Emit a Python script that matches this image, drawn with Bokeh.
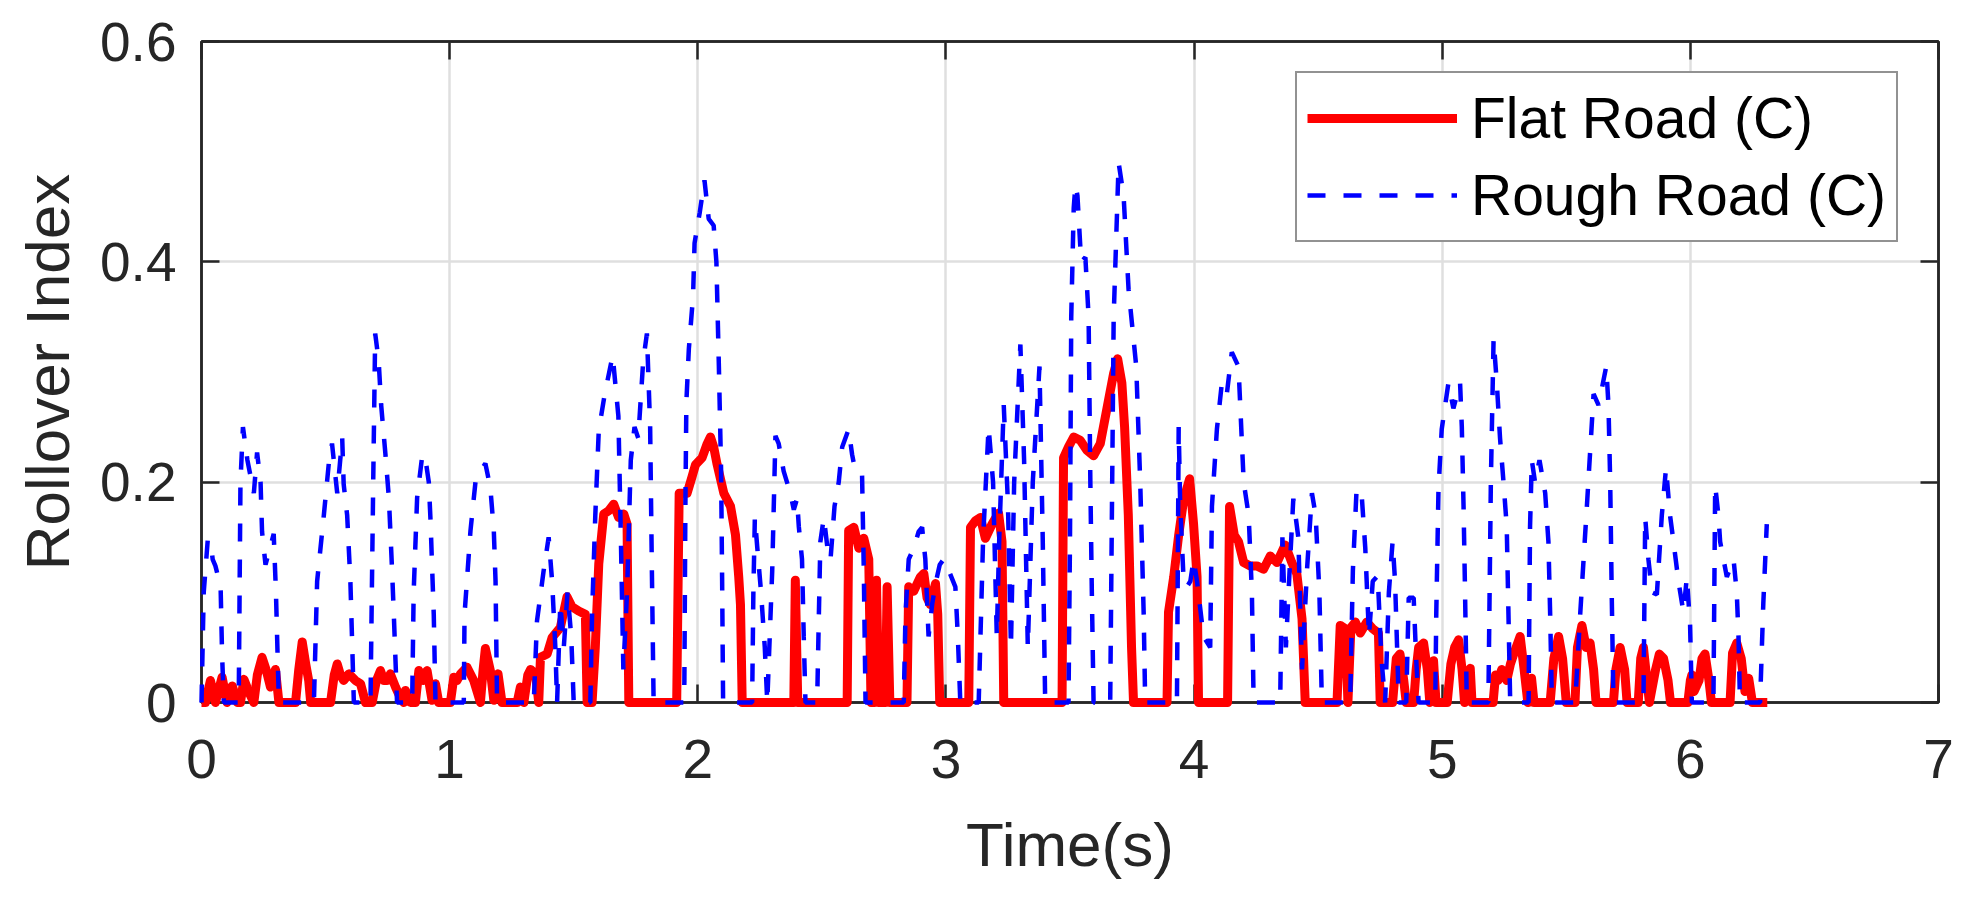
from bokeh.plotting import figure
from bokeh.models import Range1d, LinearAxis, FixedTicker, Legend, LegendItem
from bokeh.embed import file_html
from bokeh.resources import INLINE

# ---------------- data ----------------
x_ticks = [0, 1, 2, 3, 4, 5, 6, 7]
y_ticks = [0, 0.2, 0.4, 0.6]
y_tick_labels = {0: "0", 0.2: "0.2", 0.4: "0.4", 0.6: "0.6"}
series_names = ["Flat Road (C)", "Rough Road (C)"]
x_label = "Time(s)"
y_label = "Rollover Index"

flat_t = [
    0.000, 0.016, 0.036, 0.056, 0.083, 0.103, 0.124, 0.145, 0.157, 0.171, 0.190, 0.211, 0.225, 0.244, 0.260, 0.278, 0.298, 0.312,
    0.379, 0.392, 0.406, 0.420, 0.432, 0.440,
    0.520, 0.535, 0.547, 0.560, 0.573, 0.594, 0.620, 0.641, 0.661,
    0.688, 0.705, 0.721, 0.735, 0.748, 0.761, 0.782, 0.800, 0.815, 0.822, 0.842,
    0.862, 0.876, 0.892, 0.909, 0.929, 0.943, 0.956,
    1.003, 1.017, 1.030, 1.044, 1.070, 1.097, 1.124, 1.135, 1.144, 1.164, 1.178, 1.195, 1.211,
    1.272, 1.285, 1.299, 1.315, 1.326, 1.346, 1.359, 1.366, 1.393, 1.413, 1.446, 1.473, 1.493, 1.520, 1.547, 1.554,
    1.574, 1.587, 1.601, 1.621, 1.641, 1.661, 1.681, 1.702, 1.715, 1.722,
    1.915, 1.925, 1.957, 1.977, 1.991, 2.017, 2.038, 2.051, 2.064, 2.078, 2.105, 2.132, 2.152, 2.165, 2.172, 2.179,
    2.387, 2.393, 2.403,
    2.602, 2.608, 2.629, 2.649, 2.669, 2.689, 2.698,
    2.712, 2.720, 2.729, 2.756, 2.763, 2.774,
    2.843, 2.850, 2.870, 2.897, 2.911, 2.924, 2.937, 2.958, 2.967, 2.975,
    3.092, 3.099, 3.119, 3.139, 3.159, 3.186, 3.212, 3.226, 3.233,
    3.468, 3.474, 3.494, 3.515, 3.541, 3.568, 3.595, 3.622, 3.649, 3.676, 3.692, 3.709, 3.720, 3.735, 3.748, 3.756,
    3.891, 3.897, 3.918, 3.938, 3.958, 3.982, 3.998, 4.012, 4.018,
    4.135, 4.143, 4.162, 4.179, 4.200, 4.226, 4.253, 4.280, 4.307, 4.334, 4.367, 4.394, 4.414, 4.435, 4.448,
    4.576, 4.589, 4.610, 4.620, 4.632, 4.650, 4.670, 4.696, 4.720, 4.743, 4.750,
    4.800, 4.815, 4.830, 4.845, 4.855,
    4.885, 4.895, 4.905, 4.925, 4.940, 4.950, 4.958, 4.965, 4.975,
    5.020, 5.035, 5.050, 5.066, 5.080, 5.090, 5.105, 5.113, 5.120,
    5.205, 5.215, 5.225, 5.240, 5.260, 5.275, 5.290, 5.314, 5.330, 5.345, 5.360, 5.370,
    5.435, 5.450, 5.469, 5.485, 5.500,
    5.535, 5.545, 5.563, 5.580, 5.596, 5.610, 5.620,
    5.690, 5.700, 5.717, 5.735, 5.745,
    5.790, 5.800, 5.811, 5.825, 5.835, 5.860, 5.875, 5.892, 5.910, 5.920,
    5.990, 6.000, 6.006, 6.015, 6.035, 6.047, 6.059, 6.075, 6.085,
    6.160, 6.170, 6.187, 6.205, 6.220, 6.235, 6.250, 6.310,
]
flat_v = [
    0.0, 0.0, 0.020, 0.0, 0.023, 0.0, 0.015, 0.0, 0.0, 0.021, 0.010, 0.0, 0.025, 0.041, 0.030, 0.014, 0.030, 0.0,
    0.0, 0.030, 0.055, 0.035, 0.020, 0.0,
    0.0, 0.025, 0.035, 0.025, 0.020, 0.026, 0.020, 0.017, 0.0,
    0.0, 0.020, 0.029, 0.020, 0.020, 0.026, 0.014, 0.005, 0.0, 0.011, 0.0,
    0.0, 0.029, 0.020, 0.029, 0.002, 0.017, 0.0,
    0.0, 0.023, 0.020, 0.026, 0.032, 0.020, 0.0, 0.030, 0.049, 0.029, 0.002, 0.026, 0.0,
    0.0, 0.014, 0.0, 0.025, 0.030, 0.026, 0.0, 0.041, 0.044, 0.059, 0.068, 0.096, 0.087, 0.083, 0.080, 0.0,
    0.0, 0.050, 0.126, 0.171, 0.174, 0.180, 0.168, 0.171, 0.162, 0.0,
    0.0, 0.190, 0.190, 0.205, 0.216, 0.222, 0.235, 0.241, 0.232, 0.216, 0.190, 0.178, 0.152, 0.114, 0.089, 0.0,
    0.0, 0.111, 0.0,
    0.0, 0.156, 0.159, 0.140, 0.149, 0.130, 0.0,
    0.0, 0.111, 0.0, 0.0, 0.105, 0.0,
    0.0, 0.105, 0.101, 0.114, 0.117, 0.095, 0.089, 0.108, 0.080, 0.0,
    0.0, 0.159, 0.165, 0.168, 0.149, 0.162, 0.172, 0.146, 0.0,
    0.0, 0.222, 0.232, 0.241, 0.238, 0.229, 0.224, 0.235, 0.267, 0.299, 0.312, 0.290, 0.250, 0.170, 0.050, 0.0,
    0.0, 0.082, 0.114, 0.152, 0.184, 0.203, 0.162, 0.114, 0.0,
    0.0, 0.178, 0.152, 0.146, 0.127, 0.124, 0.124, 0.121, 0.133, 0.127, 0.143, 0.127, 0.117, 0.076, 0.0,
    0.0, 0.070, 0.067, 0.0, 0.068, 0.073, 0.063, 0.073, 0.067, 0.063, 0.0,
    0.0, 0.040, 0.044, 0.020, 0.0,
    0.0, 0.030, 0.050, 0.054, 0.030, 0.0, 0.030, 0.038, 0.0,
    0.0, 0.035, 0.050, 0.057, 0.030, 0.0, 0.020, 0.031, 0.0,
    0.0, 0.025, 0.020, 0.030, 0.020, 0.035, 0.045, 0.060, 0.030, 0.0, 0.022, 0.0,
    0.0, 0.040, 0.060, 0.040, 0.0,
    0.0, 0.050, 0.070, 0.050, 0.054, 0.030, 0.0,
    0.0, 0.030, 0.050, 0.030, 0.0,
    0.0, 0.040, 0.050, 0.020, 0.0, 0.030, 0.044, 0.040, 0.020, 0.0,
    0.0, 0.020, 0.025, 0.010, 0.020, 0.040, 0.044, 0.020, 0.0,
    0.0, 0.045, 0.054, 0.040, 0.010, 0.022, 0.0, 0.0,
]

rough_t = [
    0.000, 0.009, 0.025, 0.036, 0.045, 0.056, 0.077, 0.083, 0.090,
    0.150, 0.157, 0.167, 0.185, 0.211, 0.224, 0.238, 0.244, 0.258, 0.291, 0.300, 0.307, 0.312,
    0.453, 0.466, 0.493, 0.513, 0.526, 0.547, 0.567, 0.573, 0.587, 0.600, 0.614,
    0.681, 0.692, 0.700, 0.714, 0.724, 0.741, 0.755, 0.761, 0.768, 0.775, 0.788,
    0.849, 0.855, 0.869, 0.889, 0.900, 0.916, 0.923, 0.929, 0.936, 0.943,
    1.057, 1.060, 1.084, 1.104, 1.124, 1.144, 1.164, 1.178, 1.185, 1.191,
    1.339, 1.352, 1.379, 1.399, 1.413, 1.426, 1.433, 1.446, 1.460, 1.475, 1.490, 1.500,
    1.567, 1.574, 1.587, 1.601, 1.625, 1.657, 1.680, 1.690, 1.700, 1.715, 1.730, 1.745, 1.760, 1.780, 1.795, 1.808, 1.815, 1.822,
    1.944, 1.946, 1.950, 1.954, 1.964, 1.981, 1.987, 2.008, 2.027, 2.044, 2.064, 2.075, 2.085, 2.094, 2.098, 2.102,
    2.219, 2.224, 2.230, 2.240, 2.255, 2.270, 2.280,
    2.300, 2.313, 2.326, 2.346, 2.373, 2.387, 2.400, 2.407, 2.420, 2.427, 2.434,
    2.481, 2.488, 2.494, 2.508, 2.528, 2.535, 2.551, 2.568, 2.582, 2.608, 2.622, 2.635, 2.662, 2.669, 2.676,
    2.830, 2.837, 2.850, 2.870, 2.890, 2.904, 2.917, 2.930, 2.945, 2.960, 2.975, 2.991, 3.011, 3.038, 3.048, 3.058,
    3.132, 3.150, 3.172, 3.190, 3.205, 3.215, 3.233, 3.250, 3.262, 3.275, 3.300, 3.315, 3.330, 3.350, 3.377, 3.390, 3.400,
    3.494, 3.500, 3.505, 3.515, 3.522, 3.530, 3.545, 3.562, 3.575, 3.582, 3.588, 3.595,
    3.662, 3.676, 3.696, 3.716, 3.736, 3.767, 3.783, 3.797, 3.803,
    3.931, 3.938, 3.944, 3.958, 3.971, 3.985, 3.998, 4.012, 4.038, 4.065, 4.072, 4.092, 4.112, 4.132, 4.152, 4.179, 4.200, 4.220, 4.233, 4.240,
    4.347, 4.356, 4.370, 4.385, 4.400, 4.420, 4.435, 4.455, 4.475, 4.490, 4.505, 4.515,
    4.629, 4.640, 4.655, 4.675, 4.690, 4.705, 4.720, 4.740, 4.755, 4.770, 4.785, 4.800, 4.810, 4.825, 4.855, 4.865, 4.885, 4.895, 4.905,
    4.972, 4.976, 4.985, 4.998, 5.012, 5.025, 5.045, 5.072, 5.079, 5.086, 5.092, 5.099,
    5.186, 5.196, 5.207, 5.220, 5.233, 5.247, 5.260, 5.267, 5.274,
    5.348, 5.354, 5.361, 5.374, 5.392, 5.415, 5.428, 5.435, 5.442,
    5.536, 5.556, 5.583, 5.610, 5.630, 5.661, 5.670, 5.677, 5.683, 5.690,
    5.811, 5.818, 5.831, 5.845, 5.865, 5.885, 5.902, 5.918, 5.932, 5.952, 5.972, 5.986, 5.999, 6.006,
    6.093, 6.100, 6.113, 6.120, 6.147, 6.174, 6.187, 6.194, 6.200,
    6.281, 6.294, 6.308,
]
rough_v = [
    0.0, 0.100, 0.147, 0.147, 0.130, 0.124, 0.105, 0.043, 0.0,
    0.0, 0.200, 0.250, 0.220, 0.190, 0.227, 0.200, 0.155, 0.125, 0.153, 0.100, 0.040, 0.0,
    0.0, 0.110, 0.170, 0.217, 0.235, 0.190, 0.240, 0.198, 0.170, 0.110, 0.0,
    0.0, 0.200, 0.335, 0.310, 0.270, 0.226, 0.186, 0.156, 0.120, 0.080, 0.0,
    0.0, 0.100, 0.186, 0.223, 0.225, 0.200, 0.165, 0.125, 0.080, 0.0,
    0.0, 0.080, 0.156, 0.200, 0.210, 0.217, 0.195, 0.156, 0.110, 0.0,
    0.0, 0.074, 0.120, 0.150, 0.110, 0.050, 0.0, 0.090, 0.050, 0.100, 0.060, 0.0,
    0.0, 0.080, 0.170, 0.247, 0.280, 0.315, 0.260, 0.150, 0.030, 0.100, 0.220, 0.250, 0.240, 0.310, 0.335, 0.250, 0.120, 0.0,
    0.0, 0.019, 0.178, 0.273, 0.321, 0.369, 0.417, 0.445, 0.474, 0.439, 0.433, 0.400, 0.305, 0.210, 0.114, 0.0,
    0.0, 0.100, 0.168, 0.140, 0.100, 0.050, 0.0,
    0.120, 0.242, 0.235, 0.210, 0.190, 0.175, 0.185, 0.160, 0.130, 0.060, 0.0,
    0.0, 0.080, 0.146, 0.168, 0.130, 0.130, 0.178, 0.200, 0.232, 0.248, 0.225, 0.210, 0.207, 0.120, 0.0,
    0.0, 0.080, 0.130, 0.140, 0.155, 0.159, 0.130, 0.060, 0.090, 0.110, 0.125, 0.130, 0.120, 0.105, 0.060, 0.0,
    0.0, 0.150, 0.250, 0.200, 0.060, 0.150, 0.270, 0.180, 0.050, 0.200, 0.325, 0.220, 0.050, 0.200, 0.305, 0.150, 0.0,
    0.0, 0.150, 0.350, 0.449, 0.470, 0.460, 0.400, 0.404, 0.350, 0.200, 0.100, 0.0,
    0.0, 0.350, 0.490, 0.460, 0.375, 0.305, 0.200, 0.080, 0.0,
    0.0, 0.250, 0.180, 0.110, 0.105, 0.110, 0.130, 0.110, 0.060, 0.050, 0.178, 0.248, 0.290, 0.280, 0.318, 0.305, 0.200, 0.170, 0.100, 0.0,
    0.0, 0.150, 0.050, 0.120, 0.185, 0.150, 0.030, 0.120, 0.190, 0.170, 0.100, 0.0,
    0.0, 0.120, 0.194, 0.190, 0.140, 0.060, 0.110, 0.115, 0.040, 0.0, 0.100, 0.146, 0.110, 0.0, 0.0, 0.095, 0.095, 0.040, 0.0,
    0.0, 0.080, 0.194, 0.248, 0.270, 0.290, 0.267, 0.290, 0.250, 0.178, 0.100, 0.0,
    0.0, 0.200, 0.330, 0.290, 0.240, 0.200, 0.160, 0.080, 0.0,
    0.0, 0.160, 0.220, 0.200, 0.220, 0.190, 0.146, 0.080, 0.0,
    0.0, 0.080, 0.178, 0.280, 0.270, 0.305, 0.270, 0.200, 0.100, 0.0,
    0.0, 0.168, 0.130, 0.100, 0.098, 0.170, 0.213, 0.170, 0.146, 0.110, 0.082, 0.114, 0.070, 0.0,
    0.0, 0.197, 0.170, 0.146, 0.114, 0.130, 0.100, 0.060, 0.0,
    0.0, 0.090, 0.162,
]

# ---------------- styling ----------------
AX = "#262626"
FONT = "Liberation Sans"
GRID = "#dfdfdf"

p = figure(
    frame_width=1737, frame_height=661,
    x_range=Range1d(0, 7), y_range=Range1d(0, 0.6),
    output_backend="svg", toolbar_location=None,
    min_border_left=201, min_border_right=30, min_border_top=41, min_border_bottom=190,
    background_fill_color="white", border_fill_color="white",
)
p.outline_line_color = AX
p.outline_line_width = 2.5

p.xaxis.ticker = FixedTicker(ticks=x_ticks)
p.yaxis.ticker = FixedTicker(ticks=y_ticks)
p.xgrid.ticker = FixedTicker(ticks=x_ticks)
p.ygrid.ticker = FixedTicker(ticks=y_ticks)
p.yaxis.major_label_overrides = y_tick_labels
p.xaxis.axis_label = x_label
p.yaxis.axis_label = y_label

for ax in (p.xaxis[0], p.yaxis[0]):
    ax.axis_line_color = AX
    ax.axis_line_width = 2.5
    ax.major_tick_line_color = AX
    ax.major_tick_line_width = 2.5
    ax.major_tick_in = 18
    ax.major_tick_out = 0
    ax.minor_tick_line_color = None
    ax.major_label_text_font = FONT
    ax.major_label_text_font_size = "55px"
    ax.major_label_text_color = AX
    ax.axis_label_text_font = FONT
    ax.axis_label_text_font_size = "62px"
    ax.axis_label_text_font_style = "normal"
    ax.axis_label_text_color = AX

p.xaxis.major_label_standoff = 37
p.xaxis.axis_label_standoff = 29
p.yaxis.major_label_standoff = 25
p.yaxis.axis_label_standoff = 15

# box ticks on top and right (no labels)
for loc, ticks in (("above", x_ticks), ("right", y_ticks)):
    extra = LinearAxis(
        ticker=FixedTicker(ticks=ticks),
        axis_line_color=AX, axis_line_width=2.5,
        major_tick_line_color=AX, major_tick_line_width=2.5,
        major_tick_in=18, major_tick_out=0,
        minor_tick_line_color=None,
        major_label_text_color=None,
        major_label_text_font_size="1px",
        major_label_standoff=0,
    )
    p.add_layout(extra, loc)

for g in (p.xgrid[0], p.ygrid[0]):
    g.grid_line_color = GRID
    g.grid_line_width = 2.5

# data lines drawn above the axis lines, as in the reference
r_flat = p.line(flat_t, flat_v, line_color="#ff0000", line_width=9, line_join="round",
                level="annotation")
r_rough = p.line(rough_t, rough_v, line_color="#0000ff", line_width=4.5, line_dash="18 18",
                 level="annotation")

legend = Legend(
    items=[LegendItem(label=series_names[0], renderers=[r_flat]),
           LegendItem(label=series_names[1], renderers=[r_rough])],
    location=(1094, 460),
    label_text_font=FONT, label_text_font_size="57px", label_text_color="black",
    border_line_color=AX, border_line_width=2.5,
    background_fill_color="white", background_fill_alpha=1.0,
    padding=10, spacing=7, margin=0,
    glyph_width=150, glyph_height=70, label_height=70, label_standoff=14,
)
p.add_layout(legend)

open("out.html", "w").write(file_html(p, INLINE))
